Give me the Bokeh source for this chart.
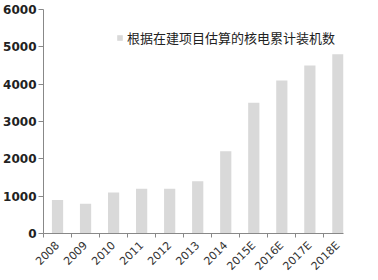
import math
from bokeh.plotting import figure
from bokeh.models import ColumnDataSource, FixedTicker, Legend, LegendItem, Range1d
from bokeh.embed import file_html
from bokeh.resources import INLINE

categories = ["2008", "2009", "2010", "2011", "2012", "2013", "2014",
              "2015E", "2016E", "2017E", "2018E"]
values = [900, 800, 1100, 1200, 1200, 1400, 2200, 3500, 4100, 4500, 4800]
y_ticks = [0, 1000, 2000, 3000, 4000, 5000, 6000]
series_name = "根据在建项目估算的核电累计装机数"

xs = [i + 0.5 for i in range(len(categories))]
src = ColumnDataSource(dict(x=xs, top=values))

p = figure(width=378, height=280, output_backend="svg", toolbar_location=None,
           x_range=Range1d(0, len(categories) - 0.3), y_range=Range1d(0, 6000),
           min_border_left=40, min_border_right=35, min_border_top=9,
           min_border_bottom=46)
p.outline_line_color = None
p.grid.visible = False
p.background_fill_color = "white"
p.border_fill_color = "white"

r = p.vbar(x="x", top="top", width=0.4, bottom=0, source=src,
           fill_color="#d9d9d9", line_color=None)

# x axis
p.xaxis.ticker = FixedTicker(ticks=xs, minor_ticks=list(range(len(categories))))
p.xaxis.major_label_overrides = {x: c for x, c in zip(xs, categories)}
p.xaxis.major_tick_out = 0
p.xaxis.major_tick_in = 0
p.xaxis.minor_tick_out = 4
p.xaxis.minor_tick_in = 0
p.xaxis.minor_tick_line_color = "#888888"
p.xaxis.axis_line_color = "#888888"
p.xaxis.major_label_orientation = math.pi / 4
p.xaxis.major_label_text_font = "DejaVu Sans"
p.xaxis.major_label_text_font_size = "11px"
p.xaxis.major_label_text_color = "#333333"
p.xaxis.major_label_standoff = 6

# y axis
p.yaxis.ticker = FixedTicker(ticks=y_ticks)
p.yaxis.major_tick_out = 5
p.yaxis.major_tick_in = 0
p.yaxis.minor_tick_out = 0
p.yaxis.minor_tick_in = 0
p.yaxis.axis_line_color = "#888888"
p.yaxis.major_tick_line_color = "#888888"
p.yaxis.major_label_text_font = "DejaVu Sans"
p.yaxis.major_label_text_font_style = "bold"
p.yaxis.major_label_text_font_size = "12px"
p.yaxis.major_label_text_color = "#222222"
p.yaxis.major_label_standoff = 2

legend = Legend(items=[LegendItem(label=series_name, renderers=[r])],
                location=(73, 186), orientation="horizontal")
legend.glyph_width = 7
legend.glyph_height = 7
legend.label_standoff = 4
legend.padding = 0
legend.margin = 0
legend.border_line_color = None
legend.background_fill_alpha = 0
legend.label_text_font = "Noto Sans CJK SC"
legend.label_text_font_size = "13px"
legend.label_text_color = "#222222"
p.add_layout(legend)

open("out.html", "w").write(file_html(p, INLINE))
